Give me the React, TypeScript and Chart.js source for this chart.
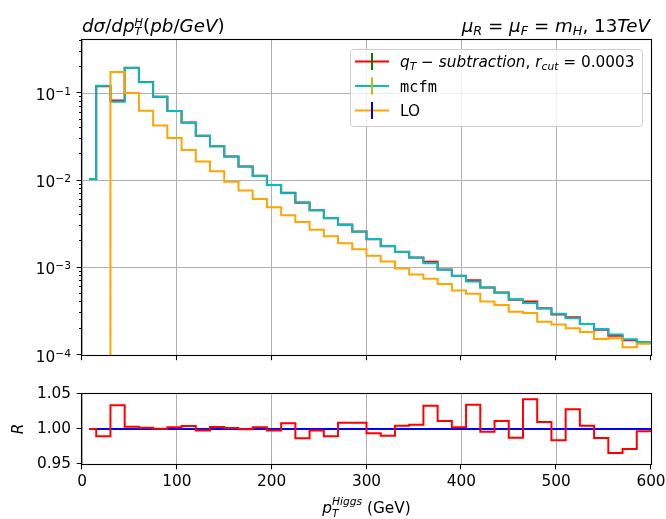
import React, { useEffect, useRef } from 'react';
import { Chart, registerables } from 'chart.js';

Chart.register(...registerables);

// ---------------- data ----------------
const binEdges = [7.5, 15, 30, 45, 60, 75, 90, 105, 120, 135, 150, 165, 180, 195, 210, 225, 240, 255, 270, 285,
  300, 315, 330, 345, 360, 375, 390, 405, 420, 435, 450, 465, 480, 495, 510, 525, 540, 555, 570, 585, 600];

const qtSubtraction = [0.0104, 0.1207, 0.0827, 0.1956, 0.1343, 0.09145, 0.06275, 0.0462, 0.03263, 0.02477,
  0.01883, 0.01449, 0.01133, 0.00889, 0.00722, 0.00556, 0.00456, 0.00369, 0.003128, 0.002603,
  0.002117, 0.001763, 0.001527, 0.001308, 0.001168, 0.000957, 0.000809, 0.000719, 0.000592, 0.000522,
  0.000431, 0.000411, 0.000344, 0.000292, 0.000271, 0.000227, 0.000195, 0.000166, 0.000148, 0.000141];

const mcfm = [0.0104, 0.122, 0.080, 0.195, 0.134, 0.0914, 0.0626, 0.0460, 0.0327, 0.0247,
  0.0188, 0.0145, 0.0113, 0.00891, 0.00716, 0.00564, 0.00457, 0.00373, 0.00310, 0.00258,
  0.00213, 0.00178, 0.00152, 0.00130, 0.00113, 0.000946, 0.000807, 0.000695, 0.000594, 0.000516,
  0.000436, 0.000394, 0.000341, 0.000297, 0.000264, 0.000226, 0.000198, 0.000172, 0.000152, 0.000141];

const leadingOrder = [0, 0, 0.175, 0.1008, 0.0632, 0.0426, 0.0308, 0.0224, 0.0165, 0.01276,
  0.0097, 0.0077, 0.00615, 0.00494, 0.00400, 0.00335, 0.00272, 0.00230, 0.00191, 0.00163,
  0.00137, 0.00118, 0.00098, 0.000836, 0.000746, 0.000650, 0.000548, 0.000503, 0.000410, 0.000373,
  0.000313, 0.000302, 0.000240, 0.000223, 0.000203, 0.000184, 0.000153, 0.000156, 0.000123, 0.000135];

const ratioQtOverMcfm = [1.000, 0.9895, 1.0338, 1.0033, 1.0019, 1.0005, 1.0024, 1.0043, 0.998, 1.003,
  1.0014, 0.9995, 1.0024, 0.998, 1.0081, 0.9867, 0.998, 0.9895, 1.009, 1.009,
  0.9938, 0.9905, 1.0048, 1.0062, 1.0333, 1.0114, 1.0024, 1.0348, 0.9962, 1.0114,
  0.9876, 1.0424, 1.01, 0.9838, 1.0281, 1.0048, 0.9871, 0.9657, 0.9714, 0.9967];

const ratioReference = [1, 1];

const xTickValues = [0, 100, 200, 300, 400, 500, 600];
const logTickExponents = [-4, -3, -2, -1];
const ratioTickValues = [0.95, 1.0, 1.05];

const X_MIN = 0;
const X_MAX = 600;
const TOP_Y_MIN = 1e-4;
const TOP_Y_MAX = 0.408;

const FAM = '"DejaVu Sans"';
const MONO = '"DejaVu Sans Mono"';
const TICK_SIZE = 15.3;
const TITLE_SIZE = 18.3;

const RED = '#ff0000';
const CYAN = '#00bfbf';
const ORANGE = '#ffa500';
const BLUE = '#0000ff';
const GRID = '#b0b0b0';

// ---------------- helpers ----------------
function stepPoints(values: number[]) {
  const pts: { x: number; y: number }[] = [];
  for (let i = 0; i < values.length; i++) {
    const v = values[i];
    if (v <= 0) continue;
    if (pts.length === 0 && i > 0) pts.push({ x: binEdges[i], y: 1e-7 });
    pts.push({ x: binEdges[i], y: v });
  }
  pts.push({ x: binEdges[binEdges.length - 1], y: values[values.length - 1] });
  return pts;
}

type Run = { t: string; f?: 'n' | 'i' | 'm'; s?: number; dy?: number; stack?: boolean };

function drawRich(ctx: CanvasRenderingContext2D, runs: Run[], x: number, y: number, size: number,
  align: 'left' | 'right' | 'center', color = '#000') {
  const fontFor = (r: Run) =>
    `${r.f === 'i' ? 'italic ' : ''}${size * (r.s ?? 1)}px ${r.f === 'm' ? MONO : FAM}`;
  const pos: number[] = [];
  let cur = 0;
  let lastStart = 0;
  let lastW = 0;
  for (const r of runs) {
    ctx.font = fontFor(r);
    const w = ctx.measureText(r.t).width;
    if (r.stack) {
      pos.push(lastStart);
      cur = Math.max(lastStart + lastW, lastStart + w);
    } else {
      pos.push(cur);
      lastStart = cur;
      lastW = w;
      cur += w;
    }
  }
  const start = align === 'left' ? x : align === 'right' ? x - cur : x - cur / 2;
  ctx.fillStyle = color;
  ctx.textAlign = 'left';
  ctx.textBaseline = 'alphabetic';
  runs.forEach((r, i) => {
    ctx.font = fontFor(r);
    ctx.fillText(r.t, start + pos[i], y + (r.dy ?? 0) * size);
  });
}

const zeroPad = (s: any) => {
  s.paddingTop = 0;
  s.paddingBottom = 0;
  s.paddingLeft = 0;
  s.paddingRight = 0;
};

// ---------------- plugins ----------------
const topDecor = {
  id: 'topDecor',
  afterDraw(chart: any) {
    const { ctx, chartArea: a, scales } = chart;
    const xs = scales.x;
    const ys = scales.y;
    ctx.save();
    ctx.strokeStyle = '#000';
    ctx.lineWidth = 1.1;
    ctx.strokeRect(a.left - 0.5, a.top - 0.5, a.right - a.left + 1, a.bottom - a.top + 1);
    ctx.beginPath();
    for (const v of xTickValues) {
      const px = Math.round(xs.getPixelForValue(v)) - 0.5;
      ctx.moveTo(px, a.bottom);
      ctx.lineTo(px, a.bottom + 5.3);
    }
    for (const e of logTickExponents) {
      const py = Math.round(ys.getPixelForValue(Math.pow(10, e))) - 0.5;
      ctx.moveTo(a.left, py);
      ctx.lineTo(a.left - 5.3, py);
    }
    for (const e of logTickExponents) {
      for (let m = 2; m <= 9; m++) {
        const v = m * Math.pow(10, e);
        if (v > TOP_Y_MAX) continue;
        const py = Math.round(ys.getPixelForValue(v)) - 0.5;
        ctx.moveTo(a.left, py);
        ctx.lineTo(a.left - 3, py);
      }
    }
    ctx.stroke();

    for (const e of logTickExponents) {
      const py = ys.getPixelForValue(Math.pow(10, e));
      drawRich(ctx, [{ t: '10' }, { t: '\u2212' + String(-e), s: 0.7, dy: -0.33 }], a.left - 11, py + 6.7, TICK_SIZE, 'right');
    }

    drawRich(ctx, [
      { t: 'd', f: 'i' }, { t: 'σ', f: 'i' }, { t: '/' }, { t: 'dp', f: 'i' },
      { t: 'T', f: 'i', s: 0.62, dy: 0.16 }, { t: 'H', f: 'i', s: 0.62, dy: -0.3, stack: true },
      { t: '(' }, { t: 'pb', f: 'i' }, { t: '/' }, { t: 'GeV', f: 'i' }, { t: ')' },
    ], a.left, 31.7, TITLE_SIZE, 'left');

    drawRich(ctx, [
      { t: 'μ', f: 'i' }, { t: 'R', f: 'i', s: 0.7, dy: 0.2 }, { t: ' = ' },
      { t: 'μ', f: 'i' }, { t: 'F', f: 'i', s: 0.7, dy: 0.2 }, { t: ' = ' },
      { t: 'm', f: 'i' }, { t: 'H', f: 'i', s: 0.7, dy: 0.2 }, { t: ', ' },
      { t: '13' }, { t: 'TeV', f: 'i' },
    ], a.right - 1, 31.7, TITLE_SIZE, 'right');

    // legend
    const lx = 350.5, ly = 49.5, lw = 292, lh = 77;
    ctx.beginPath();
    (ctx as any).roundRect(lx, ly, lw, lh, 3);
    ctx.fillStyle = 'rgba(255,255,255,0.8)';
    ctx.fill();
    ctx.strokeStyle = '#cccccc';
    ctx.lineWidth = 1;
    ctx.stroke();

    const entries: { line: string; err: string; cy: number; runs: Run[] }[] = [
      {
        line: RED, err: '#008000', cy: 61.5, runs: [
          { t: 'q', f: 'i' }, { t: 'T', f: 'i', s: 0.7, dy: 0.2 }, { t: ' \u2212 ' },
          { t: 'subtraction', f: 'i' }, { t: ', ' }, { t: 'r', f: 'i' },
          { t: 'cut', f: 'i', s: 0.7, dy: 0.2 }, { t: ' = ' }, { t: '0.0003' },
        ],
      },
      { line: CYAN, err: '#bfbf00', cy: 86, runs: [{ t: 'mcfm', f: 'm' }] },
      { line: ORANGE, err: BLUE, cy: 110.5, runs: [{ t: 'LO' }] },
    ];
    for (const en of entries) {
      ctx.lineWidth = 2;
      ctx.strokeStyle = en.line;
      ctx.beginPath();
      ctx.moveTo(355, en.cy);
      ctx.lineTo(389, en.cy);
      ctx.stroke();
      ctx.strokeStyle = en.err;
      ctx.beginPath();
      ctx.moveTo(372, en.cy - 8.5);
      ctx.lineTo(372, en.cy + 8.5);
      ctx.stroke();
      drawRich(ctx, en.runs, 400, en.cy + 5.5, TICK_SIZE, 'left');
    }
    ctx.restore();
  },
};

const bottomDecor = {
  id: 'bottomDecor',
  afterDraw(chart: any) {
    const { ctx, chartArea: a, scales } = chart;
    const xs = scales.x;
    const ys = scales.y;
    ctx.save();
    ctx.strokeStyle = '#000';
    ctx.lineWidth = 1.1;
    ctx.strokeRect(a.left - 0.5, a.top - 0.5, a.right - a.left + 1, a.bottom - a.top + 1);
    ctx.beginPath();
    for (const v of xTickValues) {
      const px = Math.round(xs.getPixelForValue(v)) - 0.5;
      ctx.moveTo(px, a.bottom);
      ctx.lineTo(px, a.bottom + 5.3);
    }
    for (const v of ratioTickValues) {
      const py = Math.round(ys.getPixelForValue(v)) - 0.5;
      ctx.moveTo(a.left, py);
      ctx.lineTo(a.left - 5.3, py);
    }
    ctx.stroke();

    drawRich(ctx, [
      { t: 'p', f: 'i' }, { t: 'T', f: 'i', s: 0.7, dy: 0.24 },
      { t: 'Higgs', f: 'i', s: 0.7, dy: -0.5, stack: true }, { t: ' (GeV)' },
    ], (a.left + a.right) / 2, chart.height - 6, TICK_SIZE, 'center');

    ctx.translate(19, (a.top + a.bottom) / 2);
    ctx.rotate(-Math.PI / 2);
    ctx.font = `italic ${TICK_SIZE}px ${FAM}`;
    ctx.fillStyle = '#000';
    ctx.textAlign = 'center';
    ctx.textBaseline = 'middle';
    ctx.fillText('R', 0, 0);
    ctx.restore();
  },
};

// ---------------- component ----------------
export default function App() {
  const topRef = useRef<HTMLCanvasElement | null>(null);
  const botRef = useRef<HTMLCanvasElement | null>(null);

  useEffect(() => {
    Chart.defaults.font.family = FAM;
    Chart.defaults.font.size = TICK_SIZE;
    Chart.defaults.color = '#000';

    const lineDs = (label: string, values: number[], color: string, order: number) => ({
      label,
      data: stepPoints(values),
      borderColor: color,
      backgroundColor: color,
      borderWidth: 2,
      pointRadius: 0,
      fill: false,
      tension: 0,
      stepped: 'before' as const,
      order,
    });

    const top = new Chart(topRef.current as HTMLCanvasElement, {
      type: 'line',
      data: {
        datasets: [
          lineDs('qT-subtraction', qtSubtraction, RED, 3),
          lineDs('mcfm', mcfm, CYAN, 2),
          lineDs('LO', leadingOrder, ORANGE, 1),
        ],
      },
      options: {
        animation: false,
        responsive: false,
        maintainAspectRatio: false,
        events: [],
        layout: { padding: { left: 0, right: 15, top: 40, bottom: 0 } },
        plugins: { legend: { display: false }, tooltip: { enabled: false } },
        scales: {
          x: {
            type: 'linear', min: X_MIN, max: X_MAX,
            afterBuildTicks: (s: any) => { s.ticks = xTickValues.map((v) => ({ value: v })); },
            ticks: { display: false },
            grid: { color: GRID, lineWidth: 1, drawTicks: false },
            border: { display: false },
            afterFit: (s: any) => { s.height = 25; zeroPad(s); },
          },
          y: {
            type: 'logarithmic', min: TOP_Y_MIN, max: TOP_Y_MAX,
            afterBuildTicks: (s: any) => { s.ticks = logTickExponents.map((e) => ({ value: Math.pow(10, e) })); },
            ticks: { display: false },
            grid: { color: GRID, lineWidth: 1, drawTicks: false },
            border: { display: false },
            afterFit: (s: any) => { s.width = 82; zeroPad(s); },
          },
        },
      },
      plugins: [topDecor],
    } as any);

    const bottom = new Chart(botRef.current as HTMLCanvasElement, {
      type: 'line',
      data: {
        datasets: [
          lineDs('ratio', ratioQtOverMcfm, RED, 1),
          {
            label: 'reference',
            data: [
              { x: binEdges[0], y: ratioReference[0] },
              { x: binEdges[binEdges.length - 1], y: ratioReference[1] },
            ],
            borderColor: BLUE,
            borderWidth: 2,
            pointRadius: 0,
            fill: false,
            order: 2,
          },
        ],
      },
      options: {
        animation: false,
        responsive: false,
        maintainAspectRatio: false,
        events: [],
        layout: { padding: { left: 0, right: 15, top: 14, bottom: 0 } },
        plugins: { legend: { display: false }, tooltip: { enabled: false } },
        scales: {
          x: {
            type: 'linear', min: X_MIN, max: X_MAX,
            afterBuildTicks: (s: any) => { s.ticks = xTickValues.map((v) => ({ value: v })); },
            ticks: { padding: 9, maxRotation: 0, autoSkip: false, callback: (v: any) => String(v) },
            grid: { color: GRID, lineWidth: 1, drawTicks: false },
            border: { display: false },
            afterFit: (s: any) => { s.height = 55; zeroPad(s); },
          },
          y: {
            type: 'linear', min: 0.95, max: 1.05,
            afterBuildTicks: (s: any) => { s.ticks = ratioTickValues.map((v) => ({ value: v })); },
            ticks: { padding: 11, callback: (v: any) => Number(v).toFixed(2) },
            grid: { display: false, drawTicks: false },
            border: { display: false },
            afterFit: (s: any) => { s.width = 82; zeroPad(s); },
          },
        },
      },
      plugins: [bottomDecor],
    } as any);

    return () => {
      top.destroy();
      bottom.destroy();
    };
  }, []);

  return (
    <div style={{ position: 'absolute', left: 0, top: 0, width: 666, height: 519, background: '#fff' }}>
      <canvas ref={topRef} width={666} height={380}
        style={{ position: 'absolute', left: 0, top: 0, width: 666, height: 380 }} />
      <canvas ref={botRef} width={666} height={139}
        style={{ position: 'absolute', left: 0, top: 380, width: 666, height: 139 }} />
    </div>
  );
}
